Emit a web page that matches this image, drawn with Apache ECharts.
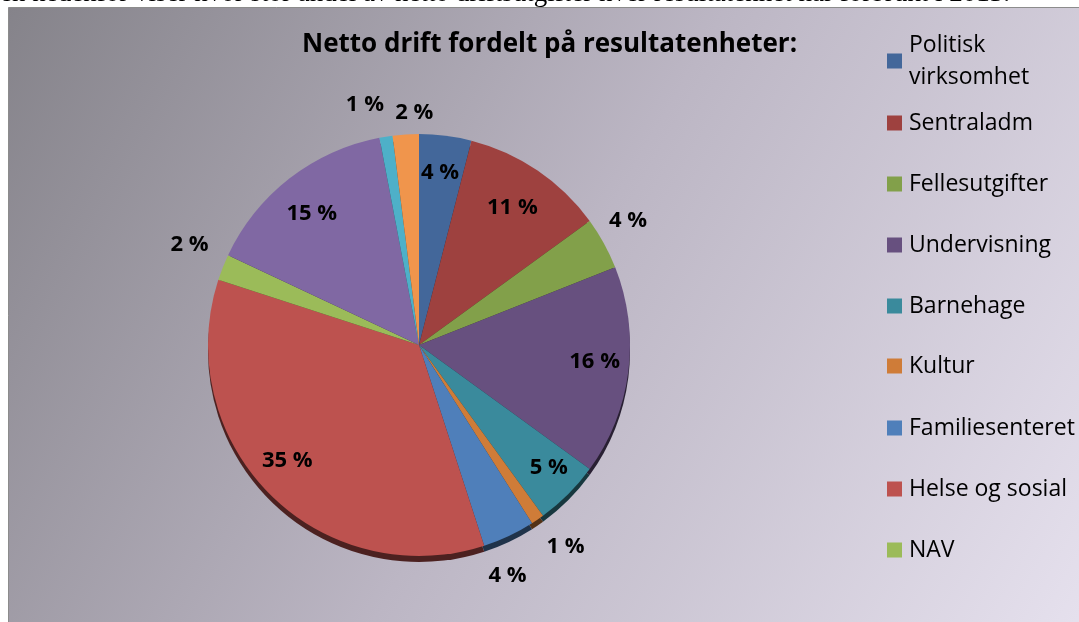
<!DOCTYPE html>
<html><head><meta charset="utf-8">
<script src="https://cdn.jsdelivr.net/npm/echarts@6/dist/echarts.min.js"></script>
<style>html,body{margin:0;padding:0;background:#fff;overflow:hidden}#c{width:1079px;height:622px}</style>
</head><body><div id="c"></div>
<script>
// ---- data ----
const categories = ['Politisk virksomhet','Sentraladm','Fellesutgifter','Undervisning','Barnehage','Kultur','Familiesenteret','Helse og sosial','NAV','Teknisk','Kirke','Næring'];
const values = [4, 11, 4, 16, 5, 1, 4, 35, 2, 15, 1, 2];
const legendNames = ['Politisk virksomhet','Sentraladm','Fellesutgifter','Undervisning','Barnehage','Kultur','Familiesenteret','Helse og sosial','NAV'];
const titleText = 'Netto drift fordelt på resultatenheter:';
const headerText = 'en nedenfor viser hvor stor andel av netto driftsutgifter hver resultatenhet har forbrukt i 2013.';

// ---- styling ----
const colors = ['#43679a','#9e413f','#82a04a','#67507f','#3a8a9c','#cf7c38','#4f7fba','#bd524f','#9bbb59','#8068a3','#4eb0c8','#f0954c'];
const labelInside = [true, true, false, true, true, false, false, true, false, true, false, false];
// small nudges of labels (dx, dy in px), by data index
const labelNudge = { 0: [-1, 1], 1: [-5, 7], 2: [-10, -4], 3: [2, -5], 4: [6, -1], 5: [6, -5], 6: [-18, 5], 7: [-8, -8], 8: [3, -8], 9: [0, 7], 10: [-15, 7], 11: [11, 17] };
const FONT = 'Open Sans';
const CX = 419, CY = 345, R = 211;

function shade(hex, f) {
  const n = parseInt(hex.slice(1), 16);
  const r = Math.round(((n >> 16) & 255) * f), g = Math.round(((n >> 8) & 255) * f), b = Math.round((n & 255) * f);
  return 'rgb(' + r + ',' + g + ',' + b + ')';
}

const baseData = categories.map((c, i) => ({ name: c, value: values[i], itemStyle: { color: colors[i] } }));
const depthData = categories.map((c, i) => ({ name: c, value: values[i], itemStyle: { color: shade(colors[i], 0.4) } }));
const labelStyle = { color: '#000', fontFamily: FONT, fontWeight: 'bold', fontSize: 22, formatter: p => p.value + ' %' };
const inData = categories.map((c, i) => ({ name: c, value: values[i], label: { show: labelInside[i] } }));
const outData = categories.map((c, i) => ({ name: c, value: values[i], label: { show: !labelInside[i] } }));
const nudge = p => { const d = labelNudge[p.dataIndex] || [0, 0]; return { hideOverlap: false, dx: d[0], dy: d[1] }; };

const common = { type: 'pie', center: [CX, CY], startAngle: 90, clockwise: true, animation: false, emphasis: { disabled: true }, avoidLabelOverlap: false, labelLine: { show: false } };

const legendCenters = [61, 123, 184, 245, 306, 366, 428, 489, 550];
const legends = legendNames.map((n, i) => {
  const multi = n === 'Politisk virksomhet';
  return {
    data: [n], orient: 'vertical', left: 887, top: multi ? legendCenters[i] - 16 - 32 : legendCenters[i] - 16,
    padding: 0, itemWidth: 15, itemHeight: 15, icon: 'rect', selectedMode: false,
    formatter: multi ? () => 'Politisk\nvirksomhet' : undefined,
    textStyle: { fontFamily: FONT, fontSize: 23, lineHeight: 32, color: '#000', padding: multi ? [32, 0, 0, 2] : [0, 0, 0, 2] }
  };
});

const chart = echarts.init(document.getElementById('c'), null, { renderer: 'canvas' });
chart.setOption({
  backgroundColor: '#ffffff',
  animation: false,
  title: { text: titleText, left: 302, top: 32, padding: 0,
    textStyle: { fontFamily: FONT, fontWeight: 'bold', fontSize: 26, color: '#000' } },
  legend: legends,
  graphic: [
    { type: 'text', z: -20,
      style: { text: headerText, x: 0, y: -6, font: '27px "Liberation Serif"', fill: '#000', textVerticalAlign: 'middle' } },
    { type: 'rect', z: -10, shape: { x: 8.5, y: 7.5, width: 1080, height: 620 },
      style: { stroke: '#8c8c8c', lineWidth: 1,
        fill: { type: 'linear', x: 0, y: 0, x2: 1, y2: 1, global: false,
          colorStops: [{ offset: 0, color: '#85838a' }, { offset: 0.5, color: '#bcb6c4' }, { offset: 1, color: '#e6e1ee' }] } } }
  ],
  series: [
    Object.assign({}, common, { name: 'main', radius: [0, R], z: 2, data: baseData, label: { show: false } }),
    Object.assign({}, common, { name: 'depth', center: [CX, CY + 6], radius: [0, R], z: 1, data: depthData, label: { show: false }, silent: true }),
    Object.assign({}, common, { name: 'labIn', radius: [133, R], z: 3, silent: true, data: inData, labelLayout: nudge,
      itemStyle: { color: 'rgba(0,0,0,0)' }, label: Object.assign({ position: 'inside' }, labelStyle) }),
    Object.assign({}, common, { name: 'labOut', radius: [232, 262], z: 3, silent: true, data: outData, labelLayout: nudge,
      itemStyle: { color: 'rgba(0,0,0,0)' }, label: Object.assign({ position: 'inside' }, labelStyle) })
  ]
});
</script>
</body></html>
